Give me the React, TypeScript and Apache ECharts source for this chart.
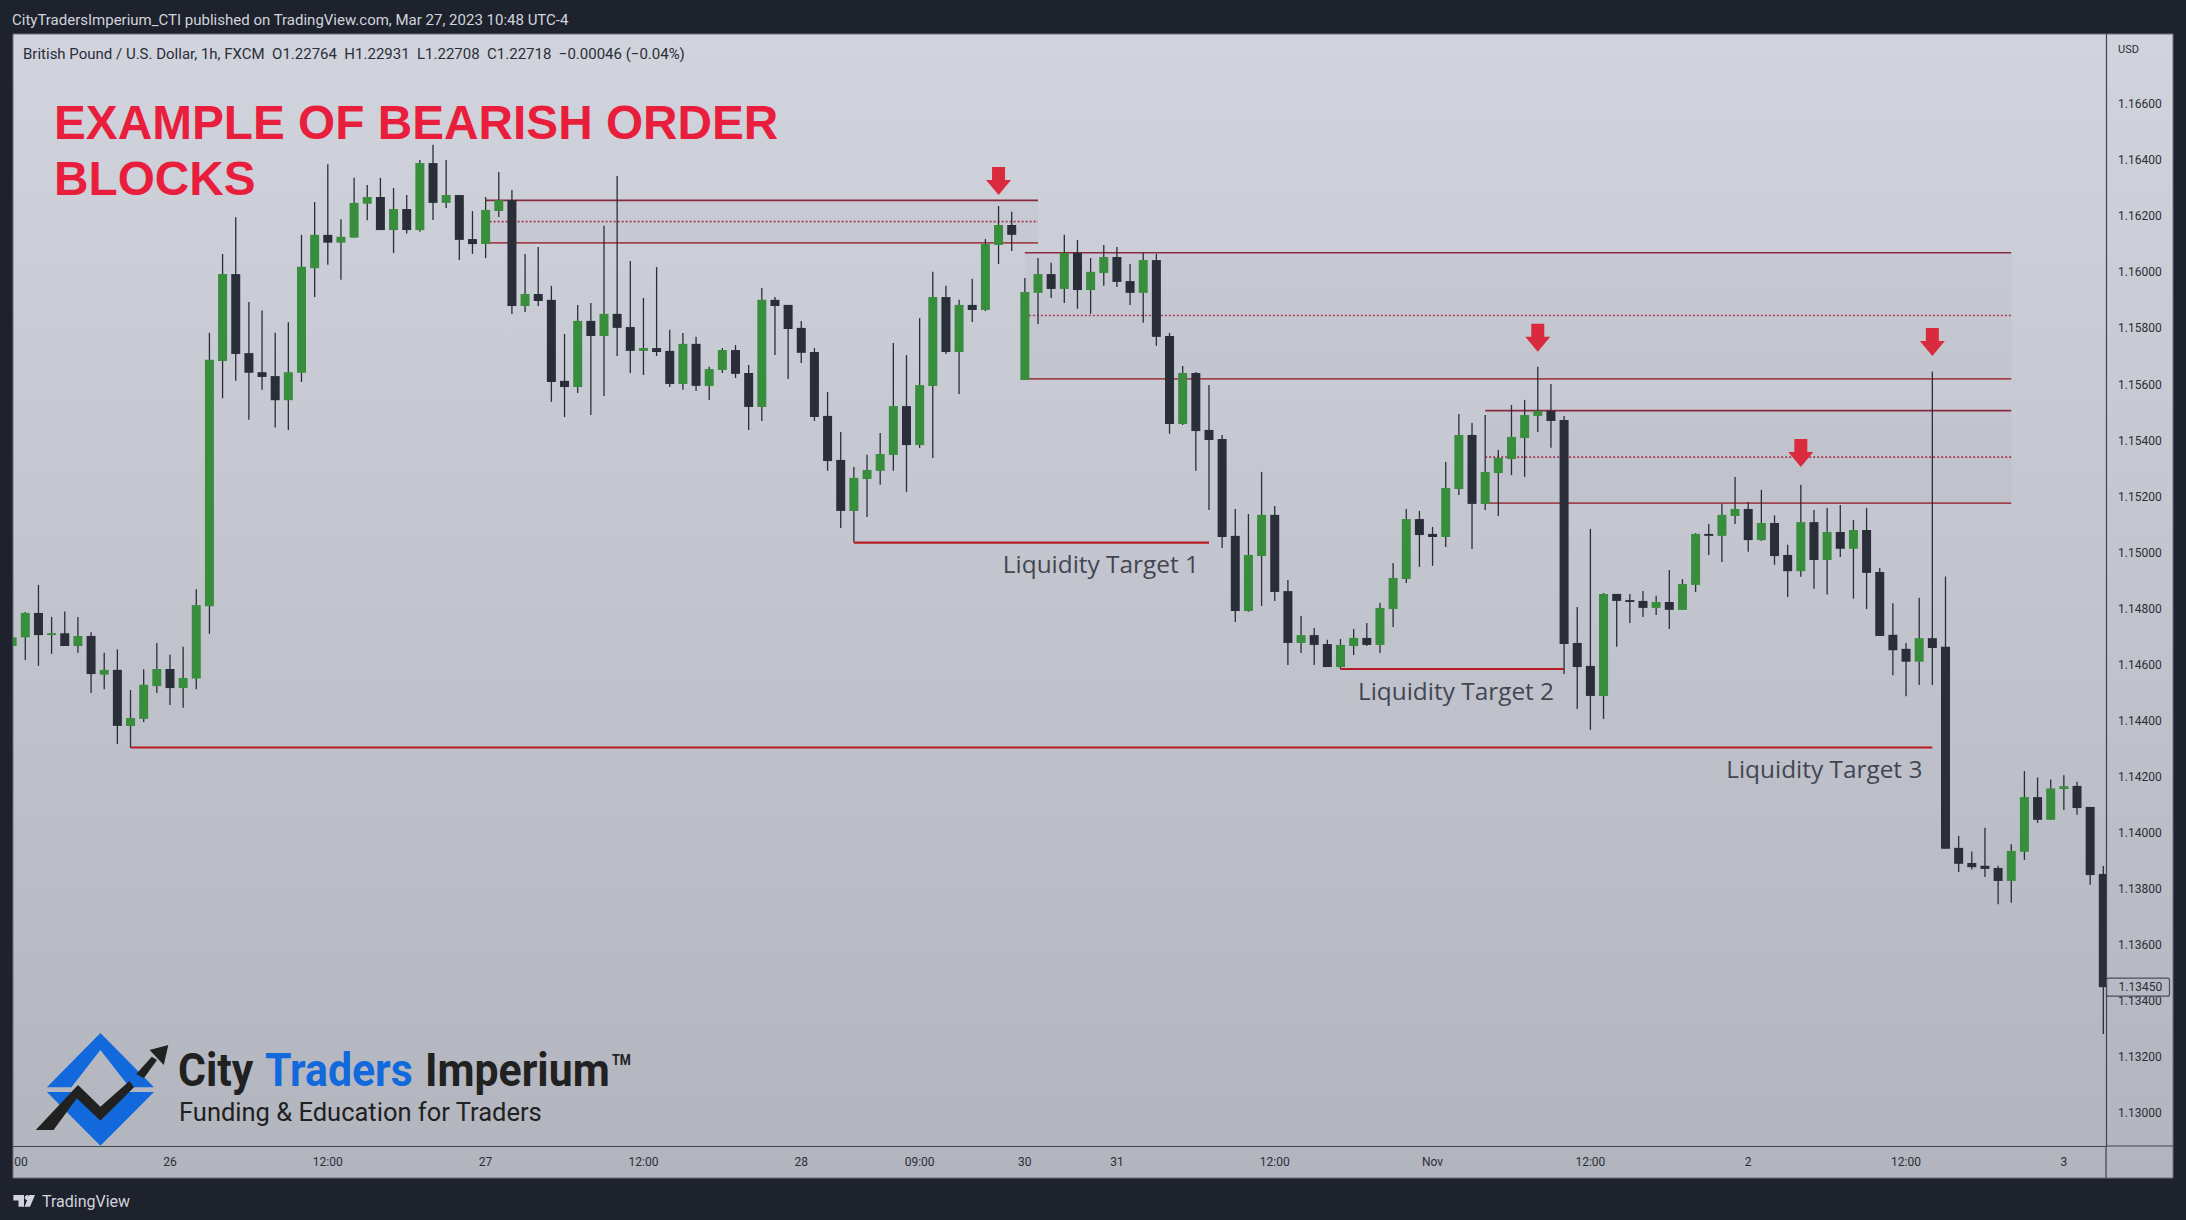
import { useEffect, useRef } from "react";
import * as echarts from "echarts";

// one value per hourly bar
const opens = [
	1.14667, 1.14698, 1.14785, 1.14706, 1.14713, 1.14667, 1.14703, 1.14565, 1.14582, 1.14382,
	1.14407, 1.14524, 1.14585, 1.14517, 1.14551, 1.14809, 1.15684, 1.15994, 1.15712, 1.15644,
	1.1563, 1.15544, 1.15642, 1.16015, 1.16134, 1.16106, 1.16124, 1.16245, 1.16269, 1.16151,
	1.16226, 1.16151, 1.1639, 1.16248, 1.16276, 1.16119, 1.16101, 1.16219, 1.16258, 1.1588,
	1.15923, 1.15902, 1.15613, 1.15591, 1.15827, 1.15773, 1.15852, 1.15805, 1.1572, 1.1573,
	1.1572, 1.15602, 1.15745, 1.15595, 1.15652, 1.15723, 1.15641, 1.1552, 1.15902, 1.15884,
	1.15802, 1.15716, 1.15488, 1.15331, 1.15149, 1.15263, 1.15292, 1.15349, 1.15523, 1.15384,
	1.15595, 1.15912, 1.15716, 1.15884, 1.15866, 1.16098, 1.16169, 1.15616, 1.15927, 1.15994,
	1.15941, 1.1607, 1.15937, 1.15998, 1.16055, 1.15969, 1.15927, 1.16044, 1.15773, 1.15459,
	1.15641, 1.15438, 1.15406, 1.1506, 1.14792, 1.14988, 1.15135, 1.14863, 1.14678, 1.14706,
	1.14674, 1.14592, 1.14667, 1.14696, 1.14671, 1.14799, 1.14906, 1.1512, 1.15067, 1.15056,
	1.15227, 1.1542, 1.15174, 1.15284, 1.15334, 1.15409, 1.15488, 1.15506, 1.15473, 1.14678,
	1.14596, 1.14489, 1.14853, 1.14831, 1.14828, 1.14803, 1.14824, 1.14796, 1.14885, 1.15067,
	1.1506, 1.15131, 1.15156, 1.15045, 1.15106, 1.14992, 1.14934, 1.15109, 1.14974, 1.15074,
	1.15014, 1.15081, 1.14931, 1.14707, 1.14657, 1.14611, 1.14695, 1.14664, 1.13947, 1.13893,
	1.13883, 1.13875, 1.13829, 1.13933, 1.14128, 1.14047, 1.14157, 1.14168, 1.14093, 1.13854,
];
const closes = [
	1.14698, 1.14785, 1.14706, 1.14713, 1.14667, 1.14703, 1.14567, 1.14582, 1.14382, 1.1441,
	1.14529, 1.14585, 1.14517, 1.14553, 1.14813, 1.15688, 1.15994, 1.15709, 1.15642, 1.15627,
	1.15544, 1.15644, 1.1602, 1.16134, 1.16106, 1.16127, 1.16248, 1.16269, 1.16151, 1.16226,
	1.16151, 1.1639, 1.16248, 1.16276, 1.16116, 1.16101, 1.16223, 1.16258, 1.1588, 1.15923,
	1.15898, 1.15609, 1.15591, 1.15827, 1.15773, 1.15852, 1.15802, 1.1572, 1.1573, 1.15716,
	1.15602, 1.15745, 1.15595, 1.15655, 1.15723, 1.15638, 1.1552, 1.15902, 1.1588, 1.15798,
	1.15713, 1.15484, 1.15327, 1.15149, 1.15267, 1.15295, 1.15352, 1.15523, 1.15384, 1.15598,
	1.15912, 1.15716, 1.15884, 1.15866, 1.16101, 1.16169, 1.16134, 1.1593, 1.15994, 1.15941,
	1.16069, 1.15937, 1.16002, 1.16055, 1.15966, 1.15927, 1.16044, 1.1577, 1.15459, 1.15641,
	1.15434, 1.15402, 1.15056, 1.14792, 1.14992, 1.15135, 1.1486, 1.14678, 1.14706, 1.14671,
	1.14592, 1.14671, 1.14696, 1.14671, 1.14803, 1.1491, 1.1512, 1.15063, 1.15056, 1.15231,
	1.1542, 1.15174, 1.15288, 1.15338, 1.15413, 1.15491, 1.15506, 1.1547, 1.14674, 1.14592,
	1.14489, 1.14853, 1.14828, 1.14824, 1.14803, 1.14824, 1.14796, 1.14888, 1.15067, 1.1506,
	1.15135, 1.15156, 1.15045, 1.15106, 1.14988, 1.14934, 1.15109, 1.14974, 1.15074, 1.15014,
	1.15081, 1.14928, 1.14703, 1.14652, 1.14611, 1.14695, 1.1466, 1.13944, 1.1389, 1.13878,
	1.13872, 1.13829, 1.13936, 1.14128, 1.14047, 1.14159, 1.14167, 1.14089, 1.1385, 1.1345,
];
const lows = [
	1.14667, 1.14617, 1.14596, 1.14639, 1.14667, 1.14643, 1.14499, 1.14513, 1.14317, 1.14304,
	1.14396, 1.14499, 1.14457, 1.14447, 1.14513, 1.14711, 1.15551, 1.15613, 1.15474, 1.15581,
	1.15447, 1.15438, 1.15609, 1.15912, 1.16027, 1.15974, 1.16124, 1.16186, 1.16151, 1.16069,
	1.16139, 1.16145, 1.16187, 1.1623, 1.16044, 1.16066, 1.16051, 1.16198, 1.15852, 1.15859,
	1.1588, 1.15538, 1.15484, 1.1557, 1.15491, 1.15559, 1.15702, 1.15641, 1.15634, 1.15702,
	1.15591, 1.15581, 1.15577, 1.15545, 1.15641, 1.15623, 1.15438, 1.1547, 1.15705, 1.1562,
	1.15677, 1.1547, 1.15292, 1.15088, 1.15036, 1.15127, 1.15242, 1.15292, 1.15217, 1.15374,
	1.15338, 1.15709, 1.15566, 1.15823, 1.15862, 1.1603, 1.16076, 1.15616, 1.15816, 1.15909,
	1.15891, 1.1587, 1.15852, 1.15952, 1.15948, 1.15884, 1.1582, 1.15738, 1.15424, 1.15456,
	1.15292, 1.15152, 1.15017, 1.14753, 1.14789, 1.1481, 1.14828, 1.14599, 1.14642, 1.14599,
	1.14592, 1.14585, 1.14635, 1.14667, 1.14642, 1.14735, 1.14892, 1.14949, 1.14953, 1.1502,
	1.15206, 1.15013, 1.15152, 1.15131, 1.15277, 1.1527, 1.15431, 1.15374, 1.14567, 1.14442,
	1.14368, 1.14407, 1.14664, 1.14749, 1.14771, 1.14778, 1.14728, 1.14796, 1.1486, 1.14992,
	1.14967, 1.15102, 1.15003, 1.15042, 1.14957, 1.14842, 1.14914, 1.14871, 1.14851, 1.14985,
	1.14836, 1.14799, 1.14703, 1.14563, 1.14488, 1.14528, 1.14528, 1.13944, 1.13861, 1.1387,
	1.13843, 1.13746, 1.13751, 1.13904, 1.14036, 1.14047, 1.14082, 1.14065, 1.13815, 1.13283,
];
const highs = [
	1.14698, 1.14788, 1.14885, 1.14771, 1.1479, 1.14771, 1.14716, 1.14643, 1.14655, 1.1451,
	1.14584, 1.14678, 1.14636, 1.14664, 1.1487, 1.15785, 1.16066, 1.16197, 1.15894, 1.15864,
	1.15785, 1.15822, 1.16134, 1.16251, 1.16386, 1.1619, 1.16338, 1.16312, 1.16337, 1.16301,
	1.16276, 1.16401, 1.16455, 1.16401, 1.16276, 1.16219, 1.16269, 1.16358, 1.16294, 1.16066,
	1.16091, 1.15952, 1.1578, 1.15884, 1.15891, 1.16166, 1.16344, 1.16041, 1.15909, 1.16019,
	1.15795, 1.15784, 1.1577, 1.15663, 1.1573, 1.15741, 1.1567, 1.15944, 1.15912, 1.15884,
	1.15827, 1.1573, 1.15573, 1.15431, 1.15306, 1.15349, 1.15427, 1.15748, 1.15705, 1.15837,
	1.16002, 1.15952, 1.15902, 1.15977, 1.16119, 1.16237, 1.16216, 1.1598, 1.16051, 1.16034,
	1.16134, 1.16116, 1.16051, 1.16098, 1.16091, 1.1603, 1.16069, 1.16066, 1.15784, 1.15666,
	1.15645, 1.15598, 1.1542, 1.15156, 1.15138, 1.15288, 1.15167, 1.14903, 1.14774, 1.14731,
	1.14689, 1.14692, 1.14728, 1.14749, 1.14821, 1.14963, 1.15156, 1.15149, 1.15092, 1.15324,
	1.15495, 1.15463, 1.15491, 1.15366, 1.15527, 1.15545, 1.15663, 1.15602, 1.15488, 1.14806,
	1.15085, 1.14856, 1.14853, 1.14853, 1.14863, 1.14846, 1.14938, 1.14906, 1.1507, 1.15102,
	1.15174, 1.1527, 1.15181, 1.15224, 1.15133, 1.15028, 1.15242, 1.15152, 1.15159, 1.1517,
	1.15117, 1.15159, 1.14945, 1.1482, 1.14678, 1.14839, 1.15646, 1.14915, 1.1399, 1.13934,
	1.14019, 1.13883, 1.1396, 1.14221, 1.14198, 1.14191, 1.14206, 1.14183, 1.14093, 1.13882,
];

const priceTicks = [
	1.13, 1.132, 1.134, 1.136, 1.138, 1.14, 1.142, 1.144, 1.146, 1.148, 1.15, 1.152, 1.154, 1.156, 1.158, 1.16, 1.162,
	1.164, 1.166,
];
const timeTicks = [0.67, 12, 24, 36, 48, 60, 69, 77, 84, 96, 108, 120, 132, 144, 156];
const timeLabels = ["00", "26", "12:00", "27", "12:00", "28", "09:00", "30", "31", "12:00", "Nov", "12:00", "2", "12:00", "3"];
const lastPrice = 1.1345;

// order block zones: first bar, last bar, top, middle, bottom
const zoneStarts = [36, 77, 112];
const zoneEnds = [78, 152, 152];
const zoneTops = [1.16257, 1.1607, 1.15507];
const zoneMids = [1.16181, 1.15846, 1.15341];
const zoneBottoms = [1.16105, 1.1562, 1.15177];

const targetStarts = [64, 101, 9];
const targetEnds = [91, 118, 146];
const targetPrices = [1.15036, 1.14585, 1.14305];
const targetNames = ["Liquidity Target 1", "Liquidity Target 2", "Liquidity Target 3"];

const arrowBars = [75, 116, 136, 146];
const arrowPrices = [1.16326, 1.15767, 1.15356, 1.15752];

const BULL = "#388e3c";
const BEAR = "#2a2e39";
const FRAME = "#1e222d";
const AXIS_TEXT = "#2a2e39";
const RED_TITLE = "#e91e3c";
const BLUE = "#1169dc";
const LOGO_DARK = "#212121";
const UI_FONT = "Roboto, sans-serif";

const BAR_SPACING = 13.152;
const FIRST_BAR_X = 12.15;
const GRID = { left: 13, right: 2106, top: 34, bottom: 1146 };

function clipToGrid(shape: any, params: any) {
	const cs = params.coordSys;
	return echarts.graphic.clipRectByRect(shape, { x: cs.x, y: cs.y, width: cs.width, height: cs.height });
}

function renderCandle(params: any, api: any) {
	const bar = api.value(0);
	const open = api.value(1);
	const close = api.value(2);
	const [x, yTop] = api.coord([bar, Math.max(open, close)]);
	const yBottom = api.coord([bar, Math.min(open, close)])[1];
	const yLow = api.coord([bar, api.value(3)])[1];
	const yHigh = api.coord([bar, api.value(4)])[1];
	const body = clipToGrid({ x: x - 4.5, y: yTop, width: 9, height: Math.max(yBottom - yTop, 1.6) }, params);
	const wickStyle = { stroke: BEAR, lineWidth: 1.3 };
	const children: any[] = [];
	if (x >= params.coordSys.x) {
		children.push({ type: "line", shape: { x1: x, y1: yHigh, x2: x, y2: yLow }, style: wickStyle });
	}
	if (body) children.push({ type: "rect", shape: body, style: { fill: close >= open ? BULL : BEAR } });
	return { type: "group", children };
}

function renderZone(_params: any, api: any) {
	const start = api.value(0);
	const end = api.value(1);
	const [x1, yTop] = api.coord([start, api.value(2)]);
	const [x2, yMid] = api.coord([end, api.value(3)]);
	const yBottom = api.coord([end, api.value(4)])[1];
	return {
		type: "group",
		children: [
			{
				type: "rect",
				shape: { x: x1, y: yTop, width: x2 - x1, height: yBottom - yTop },
				style: { fill: "rgba(120,123,134,0.05)" },
			},
			{ type: "line", shape: { x1, y1: yTop, x2, y2: yTop }, style: { stroke: "#8a2a3e", lineWidth: 1.6 } },
			{
				type: "line",
				shape: { x1, y1: yMid, x2, y2: yMid },
				style: { stroke: "#a63a50", lineWidth: 1.6, lineDash: [2, 2] },
			},
			{ type: "line", shape: { x1, y1: yBottom, x2, y2: yBottom }, style: { stroke: "#a04450", lineWidth: 1.8 } },
		],
	};
}

function renderTarget(params: any, api: any) {
	const [x1, y] = api.coord([api.value(0), api.value(2)]);
	const x2 = api.coord([api.value(1), api.value(2)])[0];
	return {
		type: "group",
		children: [
			{ type: "line", shape: { x1, y1: y, x2, y2: y }, style: { stroke: "#b71c24", lineWidth: 2.2 } },
			{
				type: "text",
				x: x2 - 10,
				y: y + 21,
				style: {
					text: targetNames[params.dataIndex],
					fill: "#434651",
					font: "24.4px 'Open Sans', sans-serif",
					align: "right",
					verticalAlign: "middle",
				},
			},
		],
	};
}

function renderLastPrice(_params: any, api: any) {
	const y = api.coord([158, api.value(0)])[1];
	return {
		type: "group",
		children: [
			{
				type: "rect",
				shape: { x: 2106.5, y: y - 9, width: 63, height: 18, r: 2 },
				style: { fill: "none", stroke: "#4a4e5a", lineWidth: 1.2 },
			},
			{
				type: "text",
				x: 2118.5,
				y,
				style: { text: lastPrice.toFixed(5), fill: AXIS_TEXT, font: `12px ${UI_FONT}`, verticalAlign: "middle" },
			},
		],
	};
}

// y is the middle of the text line
const plainText = (text: string, x: number, y: number, font: string, fill: string, extra: object = {}) => ({
	type: "text",
	x,
	y,
	z: 20,
	...extra,
	style: { text, font, fill, verticalAlign: "middle" },
});

const logoPolygon = (points: number[][], fill: string) => ({
	type: "polygon",
	z: 20,
	shape: { points },
	style: { fill },
});

const frameGraphics = [
	{
		type: "rect",
		z: -10,
		shape: { x: 13, y: 34, width: 2160, height: 1144 },
		style: {
			fill: new echarts.graphic.LinearGradient(0, 0, 0, 1, [
				{ offset: 0, color: "#d1d4dc" },
				{ offset: 1, color: "#b2b5be" },
			]),
			stroke: "#6e717c",
			lineWidth: 1,
		},
	},
	{ type: "line", z: 1, shape: { x1: 2106, y1: 1146, x2: 2106, y2: 1178 }, style: { stroke: "#3f434f", lineWidth: 1.2 } },
	{ type: "line", z: 1, shape: { x1: 2106, y1: 1146, x2: 2173, y2: 1146 }, style: { stroke: "#3f434f", lineWidth: 1.2 } },
	plainText("CityTradersImperium_CTI published on TradingView.com, Mar 27, 2023 10:48 UTC-4", 12, 20, `15px ${UI_FONT}`, "#d1d4dc"),
	plainText(
		"British Pound / U.S. Dollar, 1h, FXCM  O1.22764  H1.22931  L1.22708  C1.22718  −0.00046 (−0.04%)",
		23,
		53.5,
		`15px ${UI_FONT}`,
		"#2a2e39"
	),
	plainText("USD", 2118, 49, `11px ${UI_FONT}`, AXIS_TEXT),
	plainText("EXAMPLE OF BEARISH ORDER", 54, 122, "bold 48px 'Liberation Sans', sans-serif", RED_TITLE, { scaleX: 0.995 }),
	plainText("BLOCKS", 54, 178, "bold 48px 'Liberation Sans', sans-serif", RED_TITLE, { scaleX: 0.995 }),
	plainText("TradingView", 42, 1201.5, `16px ${UI_FONT}`, "#d1d4dc"),
	logoPolygon(
		[
			[13.4, 1195],
			[24, 1195],
			[24, 1206.7],
			[18.5, 1206.7],
			[18.5, 1200.5],
			[13.4, 1200.5],
		],
		"#d1d4dc"
	),
	logoPolygon(
		[
			[29.3, 1195],
			[35, 1195],
			[30, 1206.7],
			[24.5, 1206.7],
		],
		"#d1d4dc"
	),
	{ type: "circle", z: 20, shape: { cx: 27.2, cy: 1197.6, r: 2.5 }, style: { fill: "#d1d4dc" } },
];

const logoGraphics = [
	logoPolygon(
		[
			[100.4, 1033],
			[154, 1087.3],
			[129.5, 1087.3],
			[100.4, 1050],
			[71.4, 1087.3],
			[46.9, 1087.3],
		],
		BLUE
	),
	logoPolygon(
		[
			[46.9, 1092],
			[72.8, 1092],
			[100.4, 1120.7],
			[128, 1092],
			[154, 1092],
			[100.4, 1145.7],
		],
		BLUE
	),
	logoPolygon(
		[
			[35.7, 1130],
			[78, 1085],
			[100.4, 1106.7],
			[129.5, 1081],
			[134, 1087.3],
			[100.4, 1120.7],
			[76.8, 1098.3],
			[53.6, 1130],
		],
		LOGO_DARK
	),
	logoPolygon(
		[
			[136.2, 1074],
			[151.8, 1056.7],
			[157, 1060],
			[143.8, 1078.3],
		],
		LOGO_DARK
	),
	logoPolygon(
		[
			[149.6, 1050],
			[168.3, 1045],
			[163.8, 1065],
		],
		LOGO_DARK
	),
	plainText("City", 178, 1070, "bold 46px Roboto, sans-serif", LOGO_DARK, { scaleX: 0.93 }),
	plainText("Traders", 265, 1070, "bold 46px Roboto, sans-serif", BLUE, { scaleX: 0.93 }),
	plainText("Imperium", 425, 1070, "bold 46px Roboto, sans-serif", LOGO_DARK, { scaleX: 0.93 }),
	plainText("TM", 612, 1060, "bold 14px Roboto, sans-serif", LOGO_DARK, { scaleX: 0.9 }),
	plainText("Funding & Education for Traders", 179, 1112, "25.5px Roboto, sans-serif", LOGO_DARK),
];

export default function App() {
	const chartElementRef = useRef<HTMLDivElement | null>(null);

	useEffect(() => {
		if (!chartElementRef.current) return;
		const chart = echarts.init(chartElementRef.current, undefined, { renderer: "svg" });

		chart.setOption({
			animation: false,
			backgroundColor: FRAME,
			grid: {
				left: GRID.left,
				top: GRID.top,
				width: GRID.right - GRID.left,
				height: GRID.bottom - GRID.top,
			},
			xAxis: {
				type: "value",
				min: (GRID.left - FIRST_BAR_X) / BAR_SPACING,
				max: (GRID.right - FIRST_BAR_X) / BAR_SPACING,
				splitLine: { show: false },
				axisTick: { show: false },
				axisLine: { onZero: false, lineStyle: { color: "#3f434f", width: 1.2 } },
				axisLabel: {
					customValues: timeTicks,
					formatter: (value: number) => timeLabels[timeTicks.indexOf(value)],
					color: AXIS_TEXT,
					fontFamily: "Roboto",
					fontSize: 12,
					margin: 10,
				},
			},
			yAxis: {
				type: "value",
				position: "right",
				min: 1.128833,
				max: 1.168505,
				splitLine: { show: false },
				axisTick: { show: false },
				axisLine: { show: true, lineStyle: { color: "#3f434f", width: 1.2 } },
				axisLabel: {
					customValues: priceTicks,
					formatter: (value: number) => value.toFixed(5),
					color: AXIS_TEXT,
					fontFamily: "Roboto",
					fontSize: 12,
					margin: 12,
				},
			},
			graphic: { elements: [...frameGraphics, ...logoGraphics] },
			series: [
				{
					type: "custom",
					z: 1,
					silent: true,
					renderItem: renderZone,
					encode: { x: [0, 1], y: [2, 3, 4] },
					data: zoneStarts.map((start, i) => [start, zoneEnds[i], zoneTops[i], zoneMids[i], zoneBottoms[i]]),
				},
				{
					type: "custom",
					z: 2,
					silent: true,
					renderItem: renderCandle,
					encode: { x: 0, y: [1, 2, 3, 4] },
					data: opens.map((open, i) => [i, open, closes[i], lows[i], highs[i]]),
				},
				{
					type: "custom",
					z: 3,
					silent: true,
					renderItem: renderTarget,
					encode: { x: [0, 1], y: 2 },
					data: targetStarts.map((start, i) => [start, targetEnds[i], targetPrices[i]]),
				},
				{
					type: "scatter",
					z: 4,
					silent: true,
					symbol: "path://M6 0H19V13H25L12.5 28L0 13H6Z",
					symbolSize: [25, 28],
					itemStyle: { color: "#d92b3d", opacity: 1 },
					data: arrowBars.map((bar, i) => [bar, arrowPrices[i]]),
				},
				{
					type: "custom",
					z: 5,
					silent: true,
					renderItem: renderLastPrice,
					encode: { y: 0 },
					data: [[lastPrice]],
				},
			],
		});

		return () => chart.dispose();
	}, []);

	return <div ref={chartElementRef} style={{ position: "fixed", left: 0, top: 0, width: 2186, height: 1220 }} />;
}
